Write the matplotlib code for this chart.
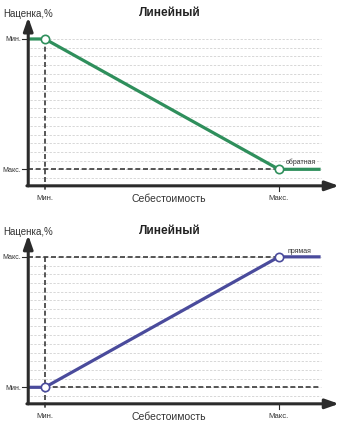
import matplotlib
matplotlib.use('Agg')
import matplotlib.pyplot as plt

# Cost axis: min / max cost levels and the end of the flat tail
cost_levels = [1, 15]
cost_labels = ['Мин.', 'Макс.']
cost_tail = 17.5

# Markup grid: 17 levels, 0 .. 16
grid_levels = list(range(17))

# Inverse relation (top): markup falls from top level to bottom level
inverse_markup = [16, 16, 1, 1]
inverse_ylabels = ['Мин.', 'Макс.']
# Direct relation (bottom): markup rises from bottom level to top level
direct_markup = [1, 1, 16, 16]
direct_ylabels = ['Мин.', 'Макс.']
line_cost = [0, 1, 15, 17.5]

title = 'Линейный'
xlabel = 'Себестоимость'
ylabel = 'Наценка,%'

green = '#2f8f5c'
blue = '#4a4b9c'
dark = '#2b2b2b'

plt.rcParams['font.family'] = ['Liberation Sans', 'DejaVu Sans']


def draw_panel(ax, markup, ylevels, ylabels, color, curve_label, ylim, dashed_rows):
    """Draw one linear markup panel."""
    ax.set_xlim(-1.69, 18.9)
    ax.set_ylim(*ylim)
    ax.axis('off')

    # light grid rows
    for g in grid_levels:
        ax.plot([0.12, cost_tail], [g, g], color='#cdcdcd', lw=0.55,
                dashes=(3, 2), zorder=1)

    # dark reference lines
    for (x0, x1, y) in dashed_rows:
        ax.plot([x0, x1], [y, y], color='#3a3a3a', lw=1.2,
                dashes=(3, 1.6), zorder=2)
    top_level = max(markup)
    ax.plot([cost_levels[0], cost_levels[0]], [top_level, -1.5],
            color='#3a3a3a', lw=1.2, dashes=(3, 1.6), zorder=2)
    ax.plot([cost_levels[1], cost_levels[1]], [-0.9, -1.5],
            color=dark, lw=0.8, zorder=2)

    # axes arrows
    ax.annotate('', xy=(0, 18.5), xytext=(0, -0.9),
                arrowprops=dict(arrowstyle='-|>,head_length=0.8,head_width=0.28',
                                color=dark, lw=2.2, shrinkA=0, shrinkB=0),
                zorder=5)
    ax.annotate('', xy=(18.6, -0.9), xytext=(-0.08, -0.9),
                arrowprops=dict(arrowstyle='-|>,head_length=0.8,head_width=0.28',
                                color=dark, lw=2.2, shrinkA=0, shrinkB=0),
                zorder=5)

    # markup curve
    ax.plot(line_cost, markup, color=color, lw=2.3, solid_capstyle='butt',
            zorder=3)
    ax.plot([line_cost[1], line_cost[2]], [markup[1], markup[2]], 'o',
            ms=6, mfc='white', mec=color, mew=1.2, zorder=4)

    # y ticks
    for lv, lab in zip(ylevels, ylabels):
        ax.plot([-0.38, 0], [lv, lv], color=dark, lw=0.8, zorder=4)
        ax.text(-0.42, lv, lab, ha='right', va='center', fontsize=5,
                color='#333333')
    # x ticks
    for cv, lab in zip(cost_levels, cost_labels):
        ax.text(cv, -2.25, lab, ha='center', va='center', fontsize=5.5,
                color='#333333')

    ax.text(8.4, -2.25, xlabel, ha='center', va='center', fontsize=7.5,
            color='#333333')
    ax.text(-1.5, 19.0, ylabel, ha='left', va='center', fontsize=7,
            color='#333333')
    ax.text(8.5, 19.1, title, ha='center', va='center', fontsize=8.5,
            fontweight='bold', color='#222222')
    ax.text(curve_label[0], curve_label[1], curve_label[2], ha='center',
            va='center', fontsize=5, color='#333333')


fig = plt.figure(figsize=(3.44, 4.27), dpi=100)
fig.patch.set_facecolor('white')
ax_top = fig.add_axes([0, 0.5, 1, 0.5])
ax_bot = fig.add_axes([0, 0, 1, 0.5])

draw_panel(ax_top, inverse_markup, [16, 1], inverse_ylabels, green,
           (16.3, 1.95, 'обратная'), (-3.97, 20.6),
           [(0, cost_levels[1], 1)])
draw_panel(ax_bot, direct_markup, [1, 16], direct_ylabels, blue,
           (16.25, 16.7, 'прямая'), (-3.45, 21.1),
           [(0, cost_levels[1], 16), (cost_levels[0], cost_tail, 1)])

fig.savefig('out.png', dpi=100, facecolor='white')
